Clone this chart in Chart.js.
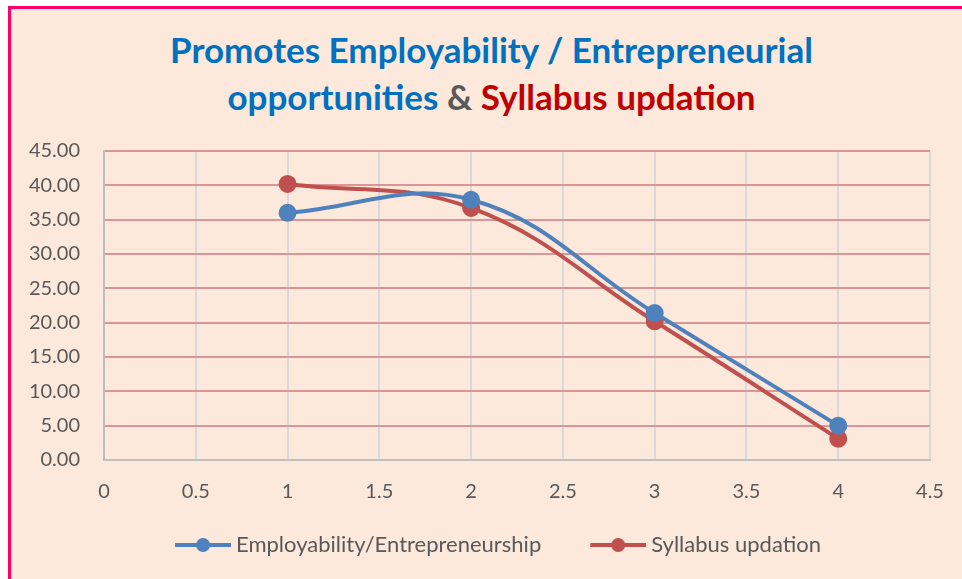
<!DOCTYPE html>
<html>
<head>
<meta charset="utf-8">
<script src="https://cdn.jsdelivr.net/npm/chart.js@4"></script>
<style>
    body { margin: 0; width: 962px; height: 579px; overflow: hidden; background: #ffffff; font-family: Lato, sans-serif; }
    #frame { position: absolute; left: 8px; top: 6px; width: 960px; height: 580px; box-sizing: border-box;
             border-left: 3px solid #FF0066; border-top: 3px solid #FF0066; background: #FCE9DB; }
    #title { position: absolute; left: 11px; top: 26px; width: 961px; text-align: center;
             font-weight: bold; font-size: 35px; line-height: 47px; color: #0070C0; }
    #title .amp { color: #595959; }
    #title .red { color: #C00000; }
    #wrap { position: absolute; left: 11px; top: 130px; width: 935px; height: 449px; }
</style>
</head>
<body>
<div id="frame"></div>
<div id="title">Promotes Employability / Entrepreneurial<br>opportunities <span class="amp">&amp;</span> <span class="red">Syllabus updation</span></div>
<div id="wrap"><canvas id="chart"></canvas></div>
<script>
const xValues = [1, 2, 3, 4];
const employability = [36.0, 37.9, 21.4, 5.0];
const syllabus = [40.2, 36.7, 20.2, 3.1];
const seriesNames = ['Employability/Entrepreneurship', 'Syllabus updation'];
const seriesColors = ['#4F81BD', '#C0504D'];

function toPoints(values) {
    return xValues.map((x, i) => ({ x: x, y: values[i] }));
}

// legend symbol: line with a dot, drawn in the right part of a wider transparent image
// so the items sit apart like in the Excel legend
function legendSymbol(color) {
    const c = document.createElement('canvas');
    c.width = 101;
    c.height = 16;
    const g = c.getContext('2d');
    g.strokeStyle = color;
    g.lineWidth = 4;
    g.beginPath();
    g.moveTo(45, 8);
    g.lineTo(101, 8);
    g.stroke();
    g.fillStyle = color;
    g.beginPath();
    g.arc(73, 8, 7, 0, Math.PI * 2);
    g.fill();
    return c;
}

const tickColor = '#595959';
const tickFont = { family: 'Lato, sans-serif', size: 20 };
const legendFont = { family: 'Lato, sans-serif', size: 22 };

new Chart(document.getElementById('chart'), {
    type: 'scatter',
    data: {
        datasets: [
            {
                label: seriesNames[0],
                data: toPoints(employability),
                borderColor: seriesColors[0],
                backgroundColor: seriesColors[0],
                showLine: true,
                tension: 0.4,
                borderWidth: 4,
                pointRadius: 7,
                pointHoverRadius: 7
            },
            {
                label: seriesNames[1],
                data: toPoints(syllabus),
                borderColor: seriesColors[1],
                backgroundColor: seriesColors[1],
                showLine: true,
                tension: 0.4,
                borderWidth: 4,
                pointRadius: 7,
                pointHoverRadius: 7
            }
        ]
    },
    options: {
        responsive: true,
        maintainAspectRatio: false,
        animation: false,
        layout: { padding: { top: 21, left: 0, right: 0, bottom: 13 } },
        scales: {
            x: {
                type: 'linear',
                min: 0,
                max: 4.5,
                afterFit: function (scale) {
                    scale.height = 64;
                    scale.paddingRight = 16;
                },
                ticks: {
                    stepSize: 0.5,
                    color: tickColor,
                    font: tickFont,
                    padding: 20,
                    maxRotation: 0,
                    callback: v => String(v)
                },
                grid: {
                    color: '#D9D9D9',
                    lineWidth: 2,
                    drawTicks: false
                },
                border: { color: '#BFBFBF', width: 2 }
            },
            y: {
                min: 0,
                max: 45,
                afterFit: function (scale) {
                    scale.width = 93;
                    scale.paddingTop = 0;
                    scale.paddingBottom = 0;
                },
                ticks: {
                    stepSize: 5,
                    color: tickColor,
                    font: tickFont,
                    padding: 24,
                    callback: v => v.toFixed(2)
                },
                grid: {
                    color: ctx => ctx.tick && ctx.tick.value === 0 ? '#BFBFBF' : '#D99694',
                    lineWidth: 2,
                    drawTicks: false
                },
                border: { color: '#BFBFBF', width: 2 }
            }
        },
        plugins: {
            title: { display: false },
            tooltip: { enabled: false },
            legend: {
                position: 'bottom',
                labels: {
                    color: tickColor,
                    font: legendFont,
                    padding: 10,
                    usePointStyle: true,
                    pointStyleWidth: 89,
                    generateLabels: function (chart) {
                        return chart.data.datasets.map((ds, i) => ({
                            text: ds.label,
                            fillStyle: ds.backgroundColor,
                            strokeStyle: ds.borderColor,
                            fontColor: tickColor,
                            pointStyle: legendSymbol(ds.borderColor),
                            datasetIndex: i,
                            hidden: false
                        }));
                    }
                }
            }
        }
    }
});
</script>
</body>
</html>
